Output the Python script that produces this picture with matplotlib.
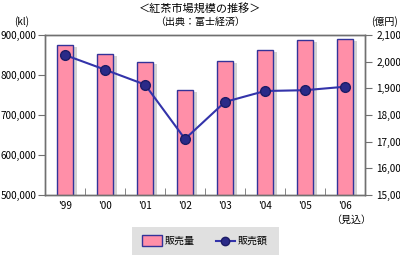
import matplotlib
matplotlib.use("Agg")
import matplotlib.pyplot as plt
import numpy as np
from matplotlib.patches import Rectangle

plt.rcParams['font.family'] = ['Noto Sans CJK JP', 'DejaVu Sans']

years = ["'99", "'00", "'01", "'02", "'03", "'04", "'05", "'06"]
volume_kl = [875000, 852000, 832000, 762000, 834000, 862000, 887000, 889000]
sales_oku = [2025, 1970, 1914, 1710, 1849, 1890, 1893, 1906]
left_ticks = [500000, 600000, 700000, 800000, 900000]
left_labels = ['500,000', '600,000', '700,000', '800,000', '900,000']
right_ticks = [1500, 1600, 1700, 1800, 1900, 2000, 2100]
right_labels = ['15,00', '16,00', '17,00', '18,00', '1,900', '2,000', '2,100']

fig = plt.figure(figsize=(4.0, 2.56), dpi=100)
W, H = 400, 256
ax = fig.add_axes([45 / W, 1 - 195 / H, 320 / W, 160 / H])
ax2 = ax.twinx()

fs = 7.2
x = np.arange(len(years))
bw = 0.4
spine_c = '#707070'
# shadows
ax.bar(x + 0.09, np.array(volume_kl) - 5000, width=bw, color='#d4d4d4', zorder=1)
ax.bar(x, volume_kl, width=bw, color='#ff8fa8', edgecolor='#333399', linewidth=1.0, zorder=2)
ax.set_xlim(-0.5, len(years) - 0.5)
ax.set_ylim(500000, 900000)
ax.set_yticks(left_ticks)
ax.set_yticklabels(left_labels, fontsize=fs)
ax.set_xticks(x)
ax.set_xticklabels(years, fontsize=fs)
ax.tick_params(axis='x', length=0, pad=4)
ax.set_xticks(np.arange(0.5, len(years) - 0.5, 1), minor=True)
ax.tick_params(axis='x', which='minor', direction='in', length=5, color=spine_c)
ax.tick_params(axis='y', direction='out', length=5, color=spine_c, pad=1)

ax2.plot(x, sales_oku, color='#3333aa', linewidth=1.5, marker='o', markersize=7,
         markerfacecolor='#2a2a88', markeredgecolor='#1c1c66', zorder=3)
ax2.set_ylim(1500, 2100)
ax2.set_yticks(right_ticks)
ax2.set_yticklabels(right_labels, fontsize=fs)
ax2.tick_params(axis='y', direction='out', length=5, color=spine_c, pad=3)

for a in (ax, ax2):
    for s in a.spines.values():
        s.set_color(spine_c)
        s.set_linewidth(1.0)

fig.text(200 / W, 1 - 8 / H, '＜紅茶市場規模の推移＞', ha='center', va='center', fontsize=8)
fig.text(200 / W, 1 - 22 / H, '（出典：富士経済）', ha='center', va='center', fontsize=fs)
fig.text(22 / W, 1 - 22 / H, '(kl)', ha='center', va='center', fontsize=fs)
fig.text(384 / W, 1 - 22 / H, '(億円)', ha='center', va='center', fontsize=fs)
fig.text(351 / W, 1 - 220 / H, '（見込）', ha='center', va='center', fontsize=fs)

# legend box
fig.patches.append(Rectangle((132 / W, 1 - 255 / H), 147 / W, 28 / H, transform=fig.transFigure,
                             facecolor='#e0e0e0', edgecolor='none'))
fig.patches.append(Rectangle((142 / W, 1 - 246 / H), 20 / W, 11 / H, transform=fig.transFigure,
                             facecolor='#ff8fa8', edgecolor='#333399', linewidth=1.0))
fig.text(165 / W, 1 - 241 / H, '販売量', ha='left', va='center', fontsize=fs)
fig.lines.append(plt.Line2D([216 / W, 235 / W], [1 - 241 / H, 1 - 241 / H], transform=fig.transFigure,
                            color='#3333aa', linewidth=1.5))
fig.lines.append(plt.Line2D([225 / W], [1 - 241 / H], transform=fig.transFigure, marker='o', markersize=6,
                            markerfacecolor='#2a2a88', markeredgecolor='#1c1c66'))
fig.text(238 / W, 1 - 241 / H, '販売額', ha='left', va='center', fontsize=fs)

fig.savefig('out.png', dpi=100)
